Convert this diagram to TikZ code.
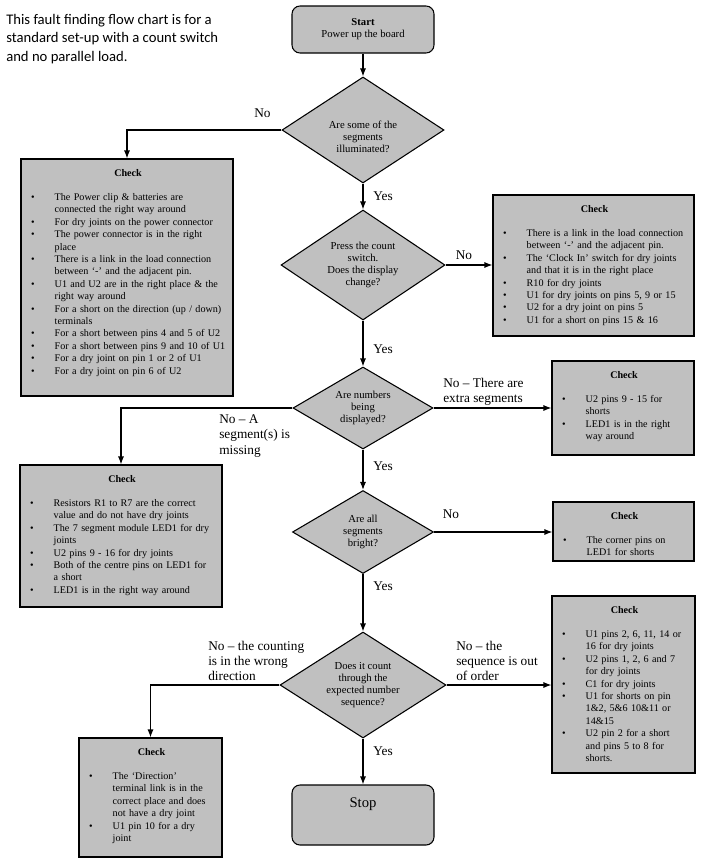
\documentclass[tikz,border=0pt]{standalone}
\usepackage{fontspec}
\setmainfont{Liberation Serif}
\newfontfamily\notefont{Carlito}
\usepackage{enumitem}
\usetikzlibrary{shapes.geometric,arrows.meta}
\definecolor{boxgrey}{RGB}{192,192,192}
\setlist[itemize]{label=\textbullet, leftmargin=21.5pt, rightmargin=-15pt, labelsep=15pt, topsep=0pt, itemsep=0pt, parsep=0pt, partopsep=0pt}
\newcommand{\checkhead}{{\centering\textbf{Check}\par}\vspace{8.8pt}}

\begin{document}
\begin{tikzpicture}[x=0.75pt,y=-0.75pt,
    startstop/.style={draw, rounded corners=6pt, fill=boxgrey, line width=0.8pt, font=\fontsize{8}{9}\selectfont, align=center},
    decision/.style={draw, diamond, aspect=1.6, inner sep=0pt, fill=boxgrey, line width=0.8pt, font=\fontsize{8}{8.8}\selectfont, align=center},
    checkbox/.style={draw, fill=boxgrey, line width=0.8pt, inner sep=0pt},
    checktext/.style={anchor=north west, inner sep=0pt, xshift=4pt, yshift=-8pt, align=left, font=\fontsize{7.6}{9.3}\selectfont},
    answer/.style={font=\fontsize{10}{11.5}\selectfont, align=left, inner sep=0pt},
    arrow/.style={-{Latex[length=6pt,width=4.5pt]}, line width=0.8pt}]
                \useasboundingbox (0,0) rectangle (705,860);
                \node[anchor=west, inner sep=0pt, align=left, font=\notefont\fontsize{11}{13.7}\selectfont] (note) at (6,39) {This fault finding flow chart is for a\\standard set-up with a count switch\\and no parallel load.};
                \node[startstop, minimum width=106.5pt, minimum height=35.25pt] (start) at (363,29.5) {\textbf{Start}\\Power up the board};
                \node[decision, minimum width=121.5pt, minimum height=79.5pt] (dec1) at (363,130) {\raisebox{-8pt}[0pt][0pt]{\begin{tabular}{@{}c@{}}Are some of the\\segments\\illuminated?\end{tabular}}};
                \node[decision, minimum width=123pt, minimum height=82.5pt] (dec2) at (363,265) {Press the count\\switch.\\Does the display\\change?};
                \node[decision, minimum width=105pt, minimum height=61.5pt] (dec3) at (363,408) {Are numbers\\being\\displayed?};
                \node[decision, minimum width=105.75pt, minimum height=62.25pt] (dec4) at (363,532) {Are all\\segments\\bright?};
                \node[decision, minimum width=124.5pt, minimum height=79.5pt] (dec5) at (363,685) {Does it count\\through the\\expected number\\sequence?};
                \node[startstop, minimum width=106.5pt, minimum height=45pt, font=\fontsize{11}{13}\selectfont, text depth=18pt] (stop) at (363,815) {Stop};

                \node[checkbox, minimum width=159pt, minimum height=177.75pt] (chkA) at (127,277.5) {};
                \node[checktext, text width=153pt] (txtA) at (chkA.north west) {\checkhead
                \begin{itemize}
                \item The Power clip \& batteries are\\connected the right way around
                \item For dry joints on the power connector
                \item The power connector is in the right\\place
                \item There is a link in the load connection\\between ‘-’ and the adjacent pin.
                \item U1 and U2 are in the right place \& the\\right way around
                \item For a short on the direction (up / down)\\terminals
                \item For a short between pins 4 and 5 of U2
                \item For a short between pins 9 and 10 of U1
                \item For a dry joint on pin 1 or 2 of U1
                \item For a dry joint on pin 6 of U2
                \end{itemize}};
                \node[checkbox, minimum width=150.75pt, minimum height=105.75pt] (chkB) at (593.5,265.5) {};
                \node[checktext, text width=144.75pt] (txtB) at (chkB.north west) {\checkhead
                \begin{itemize}
                \item There is a link in the load connection\\between ‘-’ and the adjacent pin.
                \item The ‘Clock In’ switch for dry joints\\and that it is in the right place
                \item R10 for dry joints
                \item U1 for dry joints on pins 5, 9 or 15
                \item U2 for a dry joint on pins 5
                \item U1 for a short on pins 15 \& 16
                \end{itemize}};
                \node[checkbox, minimum width=106.5pt, minimum height=70.5pt] (chkC) at (623,408) {};
                \node[checktext, text width=100.5pt] (txtC) at (chkC.north west) {\checkhead
                \begin{itemize}
                \item U2 pins 9 - 15 for\\shorts
                \item LED1 is in the right\\way around
                \end{itemize}};
                \node[checkbox, minimum width=151.5pt, minimum height=106.5pt] (chkD) at (121,536) {};
                \node[checktext, text width=145.5pt] (txtD) at (chkD.north west) {\checkhead
                \begin{itemize}
                \item Resistors R1 to R7 are the correct\\value and do not have dry joints
                \item The 7 segment module LED1 for dry\\joints
                \item U2 pins 9 - 16 for dry joints
                \item Both of the centre pins on LED1 for\\a short
                \item LED1 is in the right way around
                \end{itemize}};
                \node[checkbox, minimum width=105.75pt, minimum height=44.25pt] (chkE) at (623.5,531.5) {};
                \node[checktext, text width=99.75pt] (txtE) at (chkE.north west) {\checkhead
                \begin{itemize}
                \item The corner pins on\\LED1 for shorts
                \end{itemize}};
                \node[checkbox, minimum width=107.25pt, minimum height=132.75pt] (chkF) at (623.5,684.5) {};
                \node[checktext, text width=101.25pt] (txtF) at (chkF.north west) {\checkhead
                \begin{itemize}
                \item U1 pins 2, 6, 11, 14 or\\16 for dry joints
                \item U2 pins 1, 2, 6 and 7\\for dry joints
                \item C1 for dry joints
                \item U1 for shorts on pin\\1\&2, 5\&6 10\&11 or\\14\&15
                \item U2 pin 2 for a short\\and pins 5 to 8 for\\shorts.
                \end{itemize}};
                \node[checkbox, minimum width=107.25pt, minimum height=89.25pt] (chkG) at (150.5,797.5) {};
                \node[checktext, text width=101.25pt] (txtG) at (chkG.north west) {\checkhead
                \begin{itemize}
                \item The ‘Direction’\\terminal link is in the\\correct place and does\\not have a dry joint
                \item U1 pin 10 for a dry\\joint
                \end{itemize}};

                \draw[arrow] (start) -- (dec1);
                \draw[arrow] (dec1.west) -| (chkA.north);
                \draw[arrow] (dec1) -- (dec2);
                \draw[arrow] (dec2.east) -- (dec2.east -| chkB.west);
                \draw[arrow] (dec2) -- (dec3);
                \draw[arrow] (dec3.east) -- (dec3.east -| chkC.west);
                \draw[arrow] (dec3.west) -| (chkD.north);
                \draw[arrow] (dec3) -- (dec4);
                \draw[arrow] (dec4.east) -- (dec4.east -| chkE.west);
                \draw[arrow] (dec4) -- (dec5);
                \draw[arrow] (dec5.east) -- (dec5.east -| chkF.west);
                \draw[arrow] (dec5.west) -| (chkG.north);
                \draw[arrow] (dec5) -- (stop);

                \node[answer] (no1) at (262.5,113) {No};
                \node[answer] (yes1) at (383,196) {Yes};
                \node[answer] (no2) at (464,255) {No};
                \node[answer] (yes2) at (383,349) {Yes};
                \node[answer, anchor=west] (no3r) at (443,392) {No – There are\\extra segments};
                \node[answer, anchor=west] (no3l) at (219,436) {No – A\\segment(s) is\\missing};
                \node[answer] (yes3) at (383,466) {Yes};
                \node[answer] (no4) at (451,514) {No};
                \node[answer] (yes4) at (383,586) {Yes};
                \node[answer, anchor=west] (no5l) at (208,661) {No – the counting\\is in the wrong\\direction};
                \node[answer, anchor=west] (no5r) at (456,661) {No – the\\sequence is out\\of order};
                \node[answer] (yes5) at (383,751) {Yes};
            \end{tikzpicture}
\end{document}
